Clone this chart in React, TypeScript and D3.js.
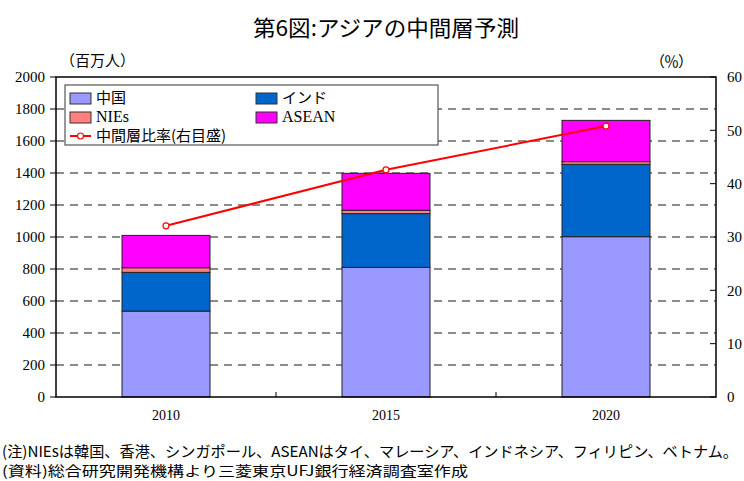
import React from "react";
import * as d3 from "d3";

// data (百万人 / %)
const years = ["2010", "2015", "2020"];
const china = [537, 810, 1002];
const india = [242, 336, 452];
const nies = [29, 21, 17];
const asean = [202, 231, 258];
const ratio = [32.1, 42.6, 50.8];
const leftTicks = [0, 200, 400, 600, 800, 1000, 1200, 1400, 1600, 1800, 2000];
const rightTicks = [0, 10, 20, 30, 40, 50, 60];

const seriesNames = ["中国", "インド", "NIEs", "ASEAN"];
const seriesColors = ["#9999ff", "#0066cc", "#ff8080", "#ff00ff"];

const W = 744;
const H = 481;
const m = { left: 56, right: 716, top: 77, bottom: 397 };

const serif = "'Liberation Serif', 'Times New Roman', serif";
const gothic = "'Noto Sans CJK JP', sans-serif";

const App = () => {
  const x = d3.scaleBand().domain(years).range([m.left, m.right]).padding(0);
  const barW = x.bandwidth() * 0.4;
  const yL = d3.scaleLinear().domain([0, 2000]).range([m.bottom, m.top]);
  const yR = d3.scaleLinear().domain([0, 60]).range([m.bottom, m.top]);

  const rows = years.map((yr, i) => ({
    yr,
    中国: china[i],
    インド: india[i],
    NIEs: nies[i],
    ASEAN: asean[i],
  }));
  const stack = d3.stack<any>().keys(seriesNames)(rows);

  const cx = (i: number) => x(years[i])! + x.bandwidth() / 2;
  const line = d3
    .line<number>()
    .x((_, i) => cx(i))
    .y((d) => yR(d));

  const legendItems = [
    { name: "中国", color: seriesColors[0], col: 0, row: 0 },
    { name: "インド", color: seriesColors[1], col: 1, row: 0 },
    { name: "NIEs", color: seriesColors[2], col: 0, row: 1 },
    { name: "ASEAN", color: seriesColors[3], col: 1, row: 1 },
  ];

  return (
    <svg width={W} height={H} style={{ position: "absolute", left: 0, top: 0 }}>
      <rect width={W} height={H} fill="#fff" />
      {/* title */}
      <text
        x={386}
        y={36}
        textAnchor="middle"
        style={{ fontFamily: gothic, fontSize: 22 }}
        textLength={266}
        lengthAdjust="spacingAndGlyphs"
        fill="#000"
      >
        第6図:アジアの中間層予測
      </text>
      <text x={60} y={66} style={{ fontFamily: gothic, fontSize: 15 }} textLength={75} fill="#000">
        （百万人）
      </text>
      <text x={650} y={67} style={{ fontFamily: gothic, fontSize: 15 }} textLength={43} fill="#000">
        （％）
      </text>

      {/* gridlines */}
      {leftTicks.slice(1, -1).map((t) => (
        <line
          key={"g" + t}
          x1={m.left}
          x2={m.right}
          y1={yL(t)}
          y2={yL(t)}
          stroke="#666"
          strokeWidth={1.3}
          strokeDasharray="8,6"
        />
      ))}

      {/* bars */}
      {stack.map((s, si) =>
        s.map((d, i) => (
          <rect
            key={si + "-" + i}
            x={x(years[i])! + (x.bandwidth() - barW) / 2}
            y={yL(d[1])}
            width={barW}
            height={yL(d[0]) - yL(d[1])}
            fill={seriesColors[si]}
            stroke="#222"
            strokeWidth={1}
          />
        ))
      )}

      {/* frame */}
      <rect
        x={m.left}
        y={m.top}
        width={m.right - m.left}
        height={m.bottom - m.top}
        fill="none"
        stroke="#000"
        strokeWidth={1.5}
      />

      {/* left axis */}
      {leftTicks.map((t) => (
        <g key={"l" + t}>
          <line x1={m.left - 6} x2={m.left} y1={yL(t)} y2={yL(t)} stroke="#000" />
          <text
            x={45}
            y={yL(t)}
            dy="0.35em"
            textAnchor="end"
            style={{ fontFamily: serif, fontSize: 15 }}
            fill="#000"
          >
            {t}
          </text>
        </g>
      ))}

      {/* right axis */}
      {rightTicks.map((t) => (
        <g key={"r" + t}>
          <line x1={m.right - 6} x2={m.right} y1={yR(t)} y2={yR(t)} stroke="#000" />
          <text x={727} y={yR(t)} dy="0.35em" style={{ fontFamily: serif, fontSize: 15 }} fill="#000">
            {t}
          </text>
        </g>
      ))}

      {/* x axis */}
      {years.slice(1).map((yr) => (
        <line key={"xt" + yr} x1={x(yr)!} x2={x(yr)!} y1={m.bottom} y2={m.bottom - 5} stroke="#000" />
      ))}
      {years.map((yr, i) => (
        <text
          key={"xl" + yr}
          x={cx(i)}
          y={420}
          textAnchor="middle"
          style={{ fontFamily: serif, fontSize: 14 }}
          fill="#000"
        >
          {yr}
        </text>
      ))}

      {/* ratio line */}
      <path d={line(ratio)!} fill="none" stroke="#ff0000" strokeWidth={2} />
      {ratio.map((r, i) => (
        <circle key={"c" + i} cx={cx(i)} cy={yR(r)} r={3} fill="#fff" stroke="#ff0000" strokeWidth={1.2} />
      ))}

      {/* legend */}
      <rect x={65} y={85} width={373} height={60} fill="#fff" stroke="#555" strokeWidth={1.2} />
      {legendItems.map((it) => {
        const lx = it.col === 0 ? 70 : 256;
        const ly = 98 + it.row * 19;
        const latin = it.name === "NIEs" || it.name === "ASEAN";
        return (
          <g key={it.name}>
            <rect x={lx} y={ly - 5} width={21} height={11} fill={it.color} stroke="#333" strokeWidth={1} />
            <text
              x={lx + 26}
              y={ly}
              dy="0.34em"
              style={{ fontFamily: latin ? serif : gothic, fontSize: latin ? 16 : 15 }}
              fill="#000"
            >
              {it.name}
            </text>
          </g>
        );
      })}
      <line x1={70} x2={91} y1={136} y2={136} stroke="#ff0000" strokeWidth={2} />
      <circle cx={80.5} cy={136} r={3} fill="#fff" stroke="#ff0000" strokeWidth={1.2} />
      <text x={96} y={136} dy="0.36em" style={{ fontFamily: gothic, fontSize: 15 }} fill="#000">
        中間層比率(右目盛)
      </text>

      {/* notes */}
      <text
        x={2}
        y={457}
        style={{ fontFamily: gothic, fontSize: 15 }}
        fill="#000"
        textLength={736}
        lengthAdjust="spacingAndGlyphs"
      >
        (注)NIEsは韓国、香港、シンガポール、ASEANはタイ、マレーシア、インドネシア、フィリピン、ベトナム。
      </text>
      <text
        x={2}
        y={476}
        style={{ fontFamily: gothic, fontSize: 14 }}
        fill="#000"
        textLength={466}
        lengthAdjust="spacingAndGlyphs"
      >
        (資料)総合研究開発機構より三菱東京UFJ銀行経済調査室作成
      </text>
    </svg>
  );
};

export default App;
